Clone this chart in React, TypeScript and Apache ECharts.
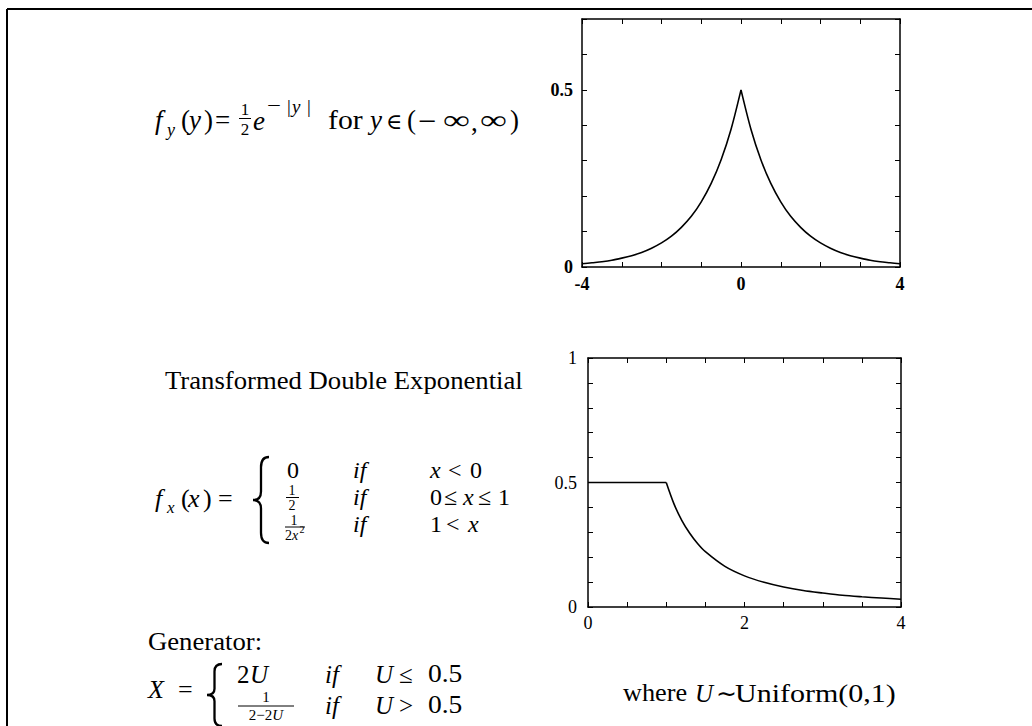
import React, { useEffect, useRef } from "react";
import * as echarts from "echarts";

// Double exponential density f_y(y), sampled along y
const laplaceX = [-4, -3.75, -3.5, -3.25, -3, -2.75, -2.5, -2.25, -2, -1.75, -1.5, -1.25, -1, -0.75, -0.5, -0.25, 0, 0.25, 0.5, 0.75, 1, 1.25, 1.5, 1.75, 2, 2.25, 2.5, 2.75, 3, 3.25, 3.5, 3.75, 4];
const laplaceY = [0.009, 0.012, 0.015, 0.019, 0.025, 0.032, 0.041, 0.053, 0.068, 0.087, 0.112, 0.143, 0.184, 0.236, 0.303, 0.389, 0.5, 0.389, 0.303, 0.236, 0.184, 0.143, 0.112, 0.087, 0.068, 0.053, 0.041, 0.032, 0.025, 0.019, 0.015, 0.012, 0.009];

// Transformed density f_x(x): flat part then the 1/(2x^2) tail
const transX = [0, 1, 1.1, 1.2, 1.3, 1.4, 1.5, 1.75, 2, 2.25, 2.5, 2.75, 3, 3.25, 3.5, 3.75, 4];
const transY = [0.5, 0.5, 0.413, 0.347, 0.296, 0.255, 0.222, 0.163, 0.125, 0.099, 0.08, 0.066, 0.056, 0.047, 0.041, 0.036, 0.031];

// Tick values that carry a label
const laplaceXLabels = [-4, 0, 4];
const laplaceYLabels = [0, 0.5];
const transXLabels = [0, 2, 4];
const transYLabels = [0, 0.5, 1];

const SERIF = '"Liberation Serif", "Times New Roman", Times, serif';
const SYMBOL = '"DejaVu Serif", "Liberation Serif", serif';

function bracePath(w: number, h: number) {
  const m = h / 2;
  const s = w * 0.5;
  return [
    `M${w},0`,
    `Q${s},0 ${s},${h * 0.12}`,
    `L${s},${m - h * 0.1}`,
    `Q${s},${m} 0,${m}`,
    `Q${s},${m} ${s},${m + h * 0.1}`,
    `L${s},${h * 0.88}`,
    `Q${s},${h} ${w},${h}`,
  ].join(" ");
}

echarts.graphic.registerShape("braceTall", echarts.graphic.extendPath(bracePath(16, 86), {}));
echarts.graphic.registerShape("braceShort", echarts.graphic.extendPath(bracePath(15, 62), {}));

type TOpts = { it?: boolean; sx?: number; align?: string; rich?: boolean; font?: string };

function txt(text: string, x: number, y: number, size: number, o: TOpts = {}) {
  const style: any = {
    text,
    fill: "#000",
    fontFamily: o.font || SERIF,
    fontSize: size,
    fontStyle: o.it ? "italic" : "normal",
    lineHeight: size,
    align: o.align || "left",
    verticalAlign: "middle",
    textAlign: o.align || "left",
    textVerticalAlign: "middle",
  };
  if (o.rich) {
    style.rich = { i: { fontStyle: "italic", fontFamily: SERIF, fontSize: size, lineHeight: size, fill: "#000" } };
  }
  return { type: "text", x, y, scaleX: o.sx || 1, silent: true, style };
}

function rule(x1: number, y1: number, x2: number, y2: number, w = 1.2) {
  return { type: "line", silent: true, shape: { x1, y1, x2, y2 }, style: { stroke: "#000", lineWidth: w } };
}

function labelFormatter(labels: number[]) {
  return (v: number) => {
    const hit = labels.find((l) => Math.abs(l - v) < 1e-6);
    return hit === undefined ? "" : String(hit);
  };
}

function axes(grid: number, min: number, max: number, interval: number, labels: number[], primaryPos: string, mirrorPos: string, bold: boolean, margin: number) {
  const base = {
    type: "value",
    gridIndex: grid,
    min,
    max,
    interval,
    axisLine: { show: true, onZero: false, lineStyle: { color: "#000", width: 1.5 } },
    axisTick: { show: true, inside: true, length: 5, lineStyle: { color: "#000", width: 1 } },
    splitLine: { show: false },
  };
  return [
    {
      ...base,
      position: primaryPos,
      axisLabel: {
        show: true,
        formatter: labelFormatter(labels),
        color: "#000",
        fontFamily: SERIF,
        fontSize: 18,
        fontWeight: bold ? "bold" : "normal",
        margin,
      },
    },
    { ...base, position: mirrorPos, axisLabel: { show: false } },
  ];
}

const pairs = (xs: number[], ys: number[], from: number, to: number) =>
  xs.slice(from, to + 1).map((x, i) => [x, ys[from + i]]);

const peak = laplaceX.indexOf(0);

const lineSeries = (xi: number, yi: number, data: number[][], smooth: number | boolean) => ({
  type: "line",
  xAxisIndex: xi,
  yAxisIndex: yi,
  data,
  smooth,
  symbol: "none",
  showSymbol: false,
  silent: true,
  lineStyle: { color: "#000", width: 1.6 },
});

const braceStyle = { stroke: "#000", fill: "none", lineWidth: 2.3 };

const option: any = {
  animation: false,
  backgroundColor: "#fff",
  grid: [
    { left: 582, top: 19, width: 318, height: 248, containLabel: false, outerBoundsMode: "none" },
    { left: 588, top: 358, width: 313, height: 249, containLabel: false, outerBoundsMode: "none" },
  ],
  xAxis: [
    ...axes(0, -4, 4, 1, laplaceXLabels, "bottom", "top", true, 8),
    ...axes(1, 0, 4, 0.5, transXLabels, "bottom", "top", false, 7),
  ],
  yAxis: [
    ...axes(0, 0, 0.7, 0.1, laplaceYLabels, "left", "right", true, 9),
    ...axes(1, 0, 1, 0.1, transYLabels, "left", "right", false, 11),
  ],
  series: [
    lineSeries(0, 0, pairs(laplaceX, laplaceY, 0, peak), 0.3),
    lineSeries(0, 0, pairs(laplaceX, laplaceY, peak, laplaceX.length - 1), 0.3),
    lineSeries(2, 2, pairs(transX, transY, 0, 1), false),
    lineSeries(2, 2, pairs(transX, transY, 1, transX.length - 1), 0.3),
  ],
  graphic: [
    // page frame
    rule(7, 9, 1032, 9, 2),
    rule(7, 9, 7, 726, 2),

    // f_y(y) = 1/2 e^{-|y|} for y in (-inf, inf)
    txt("f", 155, 120, 27, { it: true }),
    txt("y", 167, 130, 18, { it: true }),
    txt("(", 181, 120, 27),
    txt("y", 189, 120, 27, { it: true }),
    txt(")", 204, 120, 27),
    txt("=", 215, 120, 27),
    txt("1", 245, 109, 17, { align: "center" }),
    rule(239, 118.5, 251, 118.5, 1),
    txt("2", 245, 129, 17, { align: "center" }),
    txt("e", 253, 121, 27, { it: true }),
    txt("−", 267, 106, 19, { sx: 1.3 }),
    txt("|", 287, 106, 19),
    txt("y", 292, 106, 19, { it: true }),
    txt("|", 307, 106, 19),
    txt("for", 328, 120, 27, { sx: 1.1 }),
    txt("y", 370, 120, 27, { it: true }),
    txt("∈", 386, 121, 22, { font: SYMBOL }),
    txt("(", 407, 120, 27),
    txt("−", 418, 120, 27, { sx: 1.2 }),
    txt("∞", 443, 120, 27, { sx: 1.4 }),
    txt(",", 471, 122, 27),
    txt("∞", 480, 120, 27, { sx: 1.4 }),
    txt(")", 510, 120, 27),

    // title of the transformed density
    txt("Transformed Double Exponential", 165, 381, 24.5, { sx: 1.09 }),

    // f_x(x) piecewise definition
    txt("f", 155, 498, 26, { it: true }),
    txt("x", 167, 507, 17, { it: true }),
    txt("(", 181, 498, 26),
    txt("x", 188, 498, 26, { it: true }),
    txt(")", 203, 498, 26),
    txt("=", 218, 498, 26),
    { type: "braceTall", x: 253, y: 457, silent: true, style: braceStyle },
    txt("0", 287, 470, 24),
    txt("if", 353, 470, 24, { it: true }),
    txt("x", 430, 470, 24, { it: true }),
    txt("<", 448, 470, 24),
    txt("0", 470, 470, 24),
    txt("1", 292, 490, 14, { align: "center" }),
    rule(286, 497.5, 299, 497.5, 1),
    txt("2", 292, 505, 14, { align: "center" }),
    txt("if", 353, 497, 24, { it: true }),
    txt("0", 430, 497, 24),
    txt("≤", 444, 497, 24),
    txt("x", 463, 497, 24, { it: true }),
    txt("≤", 478, 497, 24),
    txt("1", 498, 497, 24),
    txt("1", 294, 520, 14, { align: "center" }),
    rule(285, 527, 305, 527, 1),
    txt("2{i|x}", 285, 535, 14, { rich: true }),
    txt("2", 299.5, 529.5, 10),
    txt("if", 353, 524, 24, { it: true }),
    txt("1", 430, 524, 24),
    txt("<", 446, 524, 24),
    txt("x", 468, 524, 24, { it: true }),

    // generator
    txt("Generator:", 148, 642, 24.5, { sx: 1.09 }),
    txt("X", 148, 689, 26, { it: true }),
    txt("=", 178, 689, 26),
    { type: "braceShort", x: 207, y: 664, silent: true, style: braceStyle },
    txt("2", 237, 674, 25),
    txt("U", 250, 674, 25, { it: true }),
    txt("if", 325, 674, 25, { it: true }),
    txt("U", 375, 674, 25, { it: true }),
    txt("≤", 399, 674, 25),
    txt("0.5", 428, 674, 25, { sx: 1.1 }),
    txt("1", 266, 697, 15, { align: "center" }),
    rule(238, 706, 294, 706, 1),
    txt("2−2{i|U}", 266, 715, 15, { align: "center", rich: true }),
    txt("if", 325, 705, 25, { it: true }),
    txt("U", 375, 705, 25, { it: true }),
    txt(">", 399, 705, 25),
    txt("0.5", 428, 705, 25, { sx: 1.1 }),

    // where U ~ Uniform(0,1)
    txt("where", 623, 693, 25, { sx: 1.05 }),
    txt("U", 695, 693, 25, { it: true }),
    txt("∼", 716, 693, 25),
    txt("Uniform(0,1)", 735, 693, 25, { sx: 1.2 }),
  ],
};

export default function App() {
  const ref = useRef<HTMLDivElement>(null);
  useEffect(() => {
    const chart = echarts.init(ref.current as HTMLDivElement, null, { renderer: "svg" });
    chart.setOption(option);
    return () => chart.dispose();
  }, []);
  return (
    <div
      ref={ref}
      style={{ position: "fixed", left: 0, top: 0, width: 1032, height: 726, background: "#fff" }}
    />
  );
}
